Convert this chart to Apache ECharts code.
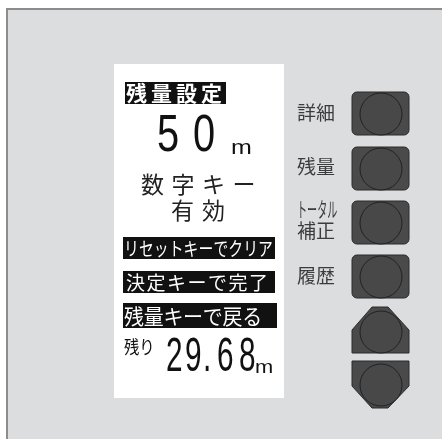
<!DOCTYPE html>
<html>
<head>
<meta charset="utf-8">
<script src="https://cdn.jsdelivr.net/npm/echarts@6/dist/echarts.min.js"></script>
<style>html,body{margin:0;padding:0;background:#fff;}#c{width:442px;height:439px;}</style>
</head>
<body>
<div id="c"></div>
<script>
// ---- content ----
const titleText = '残量設定';
const setValue = '50';
const unitText = 'm';
const hintLine1 = '数字キー';
const hintLine2 = '有効';
const boxTexts = ['リセットキーでクリア', '決定キーで完了', '残量キーで戻る'];
const remainLabel = '残り';
const remainValue = '29.68';
const buttonLabels = [['詳細'], ['残量'], ['トータル', '補正'], ['履歴']];

const CJK = '"Noto Sans CJK JP", "Noto Sans", sans-serif';
const SANS = '"Liberation Sans", Arial, sans-serif';

function charRow(str, xs, cy, size, color, font, weight, sx) {
  return Array.from(str).map((ch, i) => ({
    type: 'text', x: Array.isArray(xs) ? xs[i] : xs.x0 + i * xs.pitch, y: cy, scaleX: sx || 1,
    style: { text: ch, fill: color, fontSize: size, fontFamily: font, fontWeight: weight || 'normal',
      textAlign: 'left', textVerticalAlign: 'middle' }
  }));
}

const g = [];
// panel
g.push({ type: 'rect', shape: { x: 7, y: 9, width: 440, height: 440 },
  style: { fill: '#dcdddf', stroke: '#8c8c8c', lineWidth: 2 } });
// screen
g.push({ type: 'rect', shape: { x: 114, y: 64, width: 170, height: 334 }, style: { fill: '#ffffff' } });

// title box
g.push({ type: 'rect', shape: { x: 125, y: 82, width: 101, height: 22 }, style: { fill: '#111' } });
g.push(...charRow(titleText, { x0: 126, pitch: 25 }, 93.5, 21, '#fff', CJK, 'bold'));

// 50 m
g.push(...charRow(setValue, [157, 193], 137, 51, '#111', SANS, 'normal', 0.78));
g.push({ type: 'text', x: 231, y: 148, scaleX: 1.25,
  style: { text: unitText, fill: '#111', fontSize: 20, fontFamily: SANS, textAlign: 'left', textVerticalAlign: 'middle' } });

// hints
g.push(...charRow(hintLine1, { x0: 141, pitch: 30.5 }, 184, 23, '#222', CJK, 'normal'));
g.push(...charRow(hintLine2, { x0: 171, pitch: 31 }, 210, 23, '#222', CJK, 'normal'));

// black boxes
const boxes = [
  { y: 237, h: 22, w: 152, size: 19, pitch: 14.9, x0: 124, sx: 0.78 },
  { y: 271, h: 22, w: 152, size: 19, pitch: 20.5, x0: 126, sx: 1 },
  { y: 303, h: 25, w: 154, size: 21, pitch: 19.7, x0: 124, sx: 0.95 }
];
boxes.forEach((b, i) => {
  g.push({ type: 'rect', shape: { x: 123, y: b.y, width: b.w, height: b.h }, style: { fill: '#111' } });
  g.push(...charRow(boxTexts[i], { x0: b.x0, pitch: b.pitch }, b.y + b.h / 2 + 0.5, b.size, '#fff', CJK, 'normal', b.sx));
});

// remaining
g.push({ type: 'text', x: 124, y: 347, scaleX: 0.85,
  style: { text: remainLabel, fill: '#111', fontSize: 18, fontFamily: CJK, textAlign: 'left', textVerticalAlign: 'middle' } });
g.push(...charRow(remainValue, [166, 185, 203, 217, 239], 357.5, 48, '#111', SANS, 'normal', 0.62));
g.push({ type: 'text', x: 255, y: 368, scaleX: 1.15,
  style: { text: unitText, fill: '#111', fontSize: 19, fontFamily: SANS, textAlign: 'left', textVerticalAlign: 'middle' } });

// buttons
const btnTops = [92, 147, 201, 255];
const btnFill = '#4a4a4a', btnStroke = '#2a2a2a';
btnTops.forEach(t => {
  g.push({ type: 'rect', shape: { x: 352, y: t, width: 57, height: 43, r: 5 },
    style: { fill: btnFill, stroke: btnStroke, lineWidth: 1 } });
  g.push({ type: 'circle', shape: { cx: 381, cy: t + 22, r: 21 },
    style: { fill: '#484848', stroke: '#222', lineWidth: 1 } });
});
g.push({ type: 'polygon', shape: { points: [[372, 307], [388, 307], [409, 330], [409, 353], [352, 353], [352, 330]] },
  style: { fill: btnFill, stroke: btnStroke, lineWidth: 1 } });
g.push({ type: 'circle', shape: { cx: 381, cy: 332, r: 21 }, style: { fill: '#484848', stroke: '#222', lineWidth: 1 } });
g.push({ type: 'polygon', shape: { points: [[352, 361], [409, 361], [409, 386], [388, 408], [372, 408], [352, 386]] },
  style: { fill: btnFill, stroke: btnStroke, lineWidth: 1 } });
g.push({ type: 'circle', shape: { cx: 381, cy: 385, r: 21 }, style: { fill: '#484848', stroke: '#222', lineWidth: 1 } });

// button labels
const labelLayout = [
  [{ y: 113, size: 19, sx: 1 }],
  [{ y: 167, size: 19, sx: 1 }],
  [{ y: 209, size: 21, sx: 0.48 }, { y: 231, size: 19, sx: 1 }],
  [{ y: 276, size: 19, sx: 1 }]
];
buttonLabels.forEach((lines, i) => {
  lines.forEach((txt, j) => {
    const L = labelLayout[i][j];
    g.push({ type: 'text', x: 297, y: L.y, scaleX: L.sx,
      style: { text: txt, fill: '#3c3c3c', fontSize: L.size, fontFamily: CJK, textAlign: 'left', textVerticalAlign: 'middle' } });
  });
});

const chart = echarts.init(document.getElementById('c'), null, { renderer: 'canvas' });
chart.setOption({ backgroundColor: '#ffffff', animation: false, graphic: { elements: g } });
</script>
</body>
</html>
